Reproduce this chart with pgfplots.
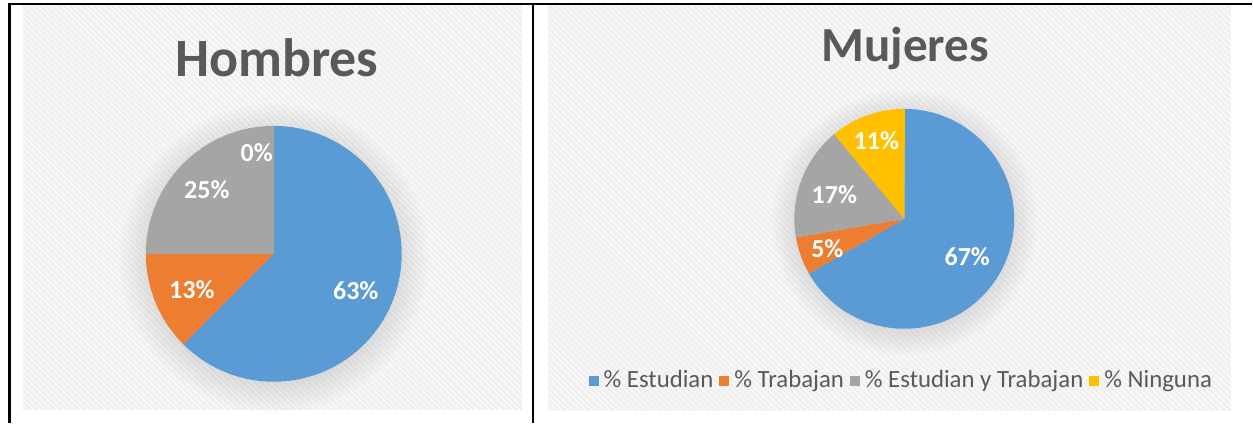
\documentclass[border=0pt]{standalone}
\usepackage{pgfplots}
\pgfplotsset{compat=1.18}
\usepackage{fontspec}
\setmainfont{Carlito}
\usetikzlibrary{patterns,fadings}
\definecolor{pieblue}{HTML}{5B9BD5}
\definecolor{pieorange}{HTML}{ED7D31}
\definecolor{piegray}{HTML}{A5A5A5}
\definecolor{pieyellow}{HTML}{FFC000}
\definecolor{txt}{HTML}{595959}
\definecolor{bgc}{HTML}{F0F0F0}

% pie slices from data values (percent), clockwise from 12 o'clock
\newcommand\pie[4]{%
  \gdef\cum{90}%
  \foreach \v/\c in {#4}{%
    \pgfmathsetmacro\e{\cum-3.6*\v}%
    \edef\tmp{\noexpand\fill[\c] (axis cs:#1,#2) -- ++(\cum:#3*0.5pt) arc[start angle=\cum, end angle=\e, radius=#3*0.5pt] -- cycle;}%
    \tmp
    \xdef\cum{\e}%
  }%
}
\newcommand\sq[1]{{\color{#1}\raisebox{0.6pt}{\rule{5pt}{5pt}}}\hspace{2.5pt}}

\begin{document}
\begin{tikzpicture}
\begin{axis}[x=0.5pt, y=0.5pt, xmin=0, xmax=1253, ymin=0, ymax=423,
  y dir=reverse, hide axis, clip=false, scale only axis]
% panels
\fill[white] (axis cs:0,0) rectangle (axis cs:1253,423);
\fill[bgc] (axis cs:23,5) rectangle (axis cs:522,410);
\fill[pattern=north west lines, pattern color=white] (axis cs:23,5) rectangle (axis cs:522,410);
\fill[bgc] (axis cs:548,5) rectangle (axis cs:1232,411);
\fill[pattern=north west lines, pattern color=white] (axis cs:548,5) rectangle (axis cs:1232,411);
% soft shadows
\fill[black, fill opacity=0.10, path fading=circle with fuzzy edge 20 percent] (axis cs:274,258) circle[radius=78pt];
\fill[black, fill opacity=0.10, path fading=circle with fuzzy edge 20 percent] (axis cs:905,222) circle[radius=67pt];
% borders
\draw[black, line width=1pt] (axis cs:8,3.7) -- (axis cs:1253,3.7);
\draw[black, line width=1.4pt] (axis cs:9.6,3) -- (axis cs:9.6,423);
\draw[black, line width=1pt] (axis cs:533,3) -- (axis cs:533,423);
% Hombres
\pie{274}{254}{128}{62.5/pieblue, 12.5/pieorange, 25/piegray, 0/pieyellow}
% Mujeres
\pie{905}{219}{110}{66.7/pieblue, 5.6/pieorange, 16.7/piegray, 11.1/pieyellow}
% titles
\node[anchor=base, text=txt, font=\bfseries\fontsize{27}{30}\selectfont] at (axis cs:277,77) {Hombres};
\node[anchor=base, text=txt, font=\bfseries\fontsize{24.5}{28}\selectfont] at (axis cs:906,62) {Mujeres};
% data labels
\begin{scope}[every node/.style={text=white, font=\bfseries\fontsize{13}{15}\selectfont}]
\node at (axis cs:356,291) {63\%};
\node at (axis cs:192,290) {13\%};
\node at (axis cs:207,190) {25\%};
\node at (axis cs:257,153) {0\%};
\node at (axis cs:968,257) {67\%};
\node at (axis cs:828,249) {5\%};
\node at (axis cs:835,195) {17\%};
\node at (axis cs:877,141) {11\%};
\end{scope}
% legend
\node[text=txt, font=\fontsize{12.4}{14}\selectfont] at (axis cs:901,381)
 {\sq{pieblue}\% Estudian\hspace{3pt}\sq{pieorange}\% Trabajan\hspace{3pt}\sq{piegray}\% Estudian y Trabajan\hspace{3pt}\sq{pieyellow}\% Ninguna};
\end{axis}
\end{tikzpicture}
\end{document}
